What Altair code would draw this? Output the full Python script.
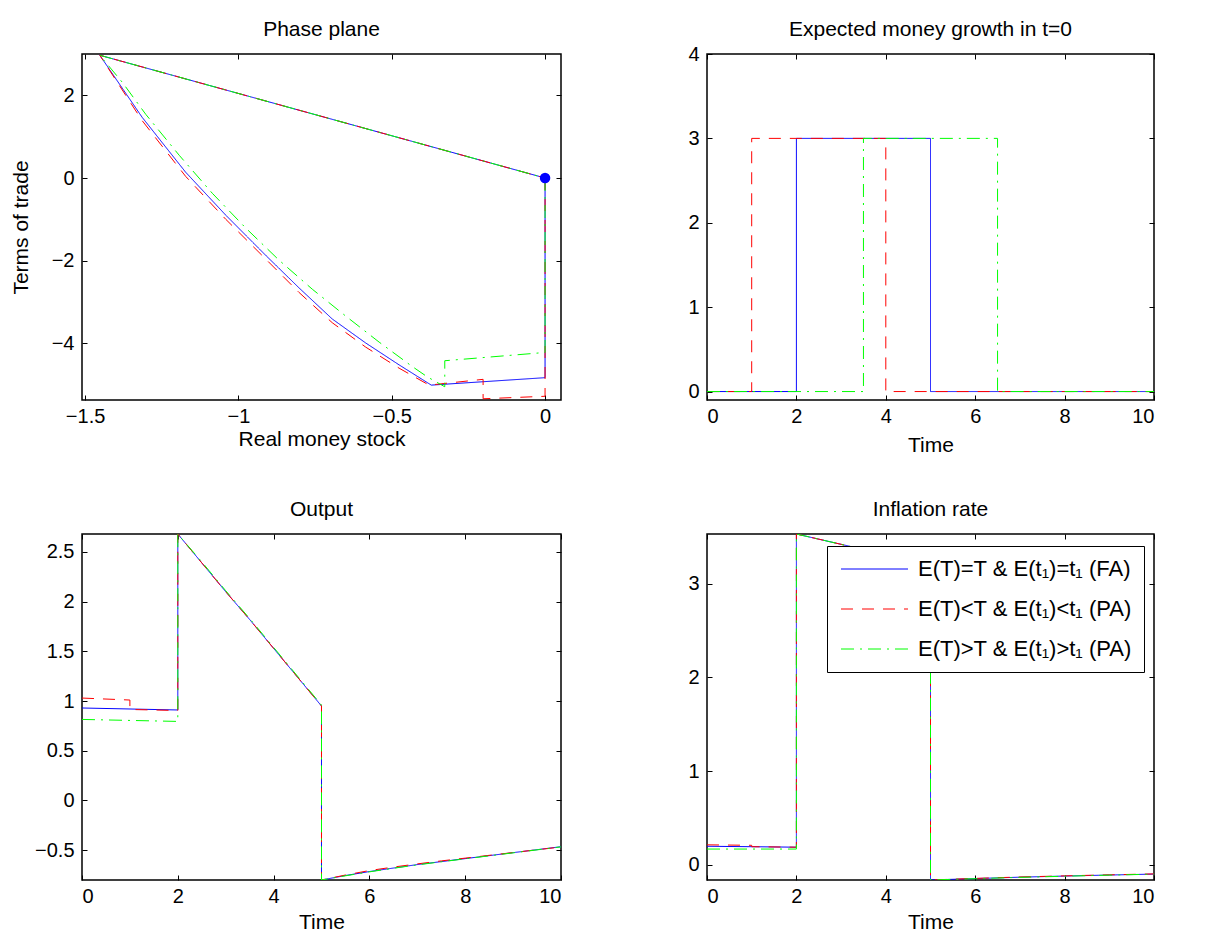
import altair as alt
import pandas as pd

FONT = "Liberation Sans"

S_FA = "E(T)=T & E(t₁)=t₁ (FA)"
S_PL = "E(T)<T & E(t₁)<t₁ (PA)"
S_PG = "E(T)>T & E(t₁)>t₁ (PA)"
SERIES = [S_FA, S_PL, S_PG]
COLORS = ["#0000ff", "#ff0000", "#00ff00"]
DASHES = [[1, 0], [12, 9], [13, 6, 2, 6]]

# ---------------- Phase plane (real money stock, terms of trade) ----------------
pp_fa_x = [0, 0, -0.371, -0.476, -0.585, -0.694, -0.802, -0.911, -1.041, -1.172, -1.314, -1.452, 0]
pp_fa_y = [0, -4.83, -5.01, -4.52, -3.99, -3.41, -2.66, -1.87, -0.90, 0.14, 1.47, 2.97, 0]
pp_pl_x = [0, 0, -0.202, -0.202, -0.378, -0.476, -0.585, -0.694, -0.802, -0.911, -1.041, -1.172, -1.314, -1.452, 0]
pp_pl_y = [0, -5.28, -5.34, -4.87, -5.01, -4.60, -4.09, -3.50, -2.77, -1.96, -1.00, 0.04, 1.39, 2.97, 0]
pp_pg_x = [0, 0, -0.327, -0.327, -0.384, -0.433, -0.541, -0.650, -0.759, -0.867, -0.976, -1.085, -1.193, -1.302, -1.378, -1.452, 0]
pp_pg_y = [0, -4.22, -4.42, -5.05, -4.81, -4.56, -3.97, -3.34, -2.69, -1.99, -1.21, -0.37, 0.55, 1.54, 2.31, 2.97, 0]
pp_dot_x = [0]
pp_dot_y = [0]

# ---------------- Expected money growth in t=0 ----------------
mg_fa_t = [0, 2, 2, 5, 5, 10]
mg_fa_v = [0, 0, 3, 3, 0, 0]
mg_pl_t = [0, 1, 1, 4, 4, 10]
mg_pl_v = [0, 0, 3, 3, 0, 0]
mg_pg_t = [0, 3.5, 3.5, 6.5, 6.5, 10]
mg_pg_v = [0, 0, 3, 3, 0, 0]

# ---------------- Output ----------------
out_fa_t = [0, 2, 2, 2.5, 3, 3.5, 4, 4.5, 5, 5, 5.5, 6, 6.5, 7, 7.5, 8, 8.5, 9, 9.5, 10]
out_fa_v = [0.93, 0.91, 2.68, 2.39, 2.10, 1.82, 1.53, 1.24, 0.95, -0.80, -0.755, -0.715, -0.68,
            -0.645, -0.615, -0.585, -0.555, -0.525, -0.495, -0.465]
out_pl_t = [0, 1, 1, 2, 2, 2.5, 3, 3.5, 4, 4.5, 5, 5, 5.5, 6, 6.5, 7, 7.5, 8, 8.5, 9, 9.5, 10]
out_pl_v = [1.03, 1.01, 0.915, 0.905, 2.68, 2.39, 2.10, 1.82, 1.53, 1.24, 0.95, -0.80, -0.75,
            -0.705, -0.67, -0.638, -0.608, -0.58, -0.552, -0.524, -0.496, -0.468]
out_pg_t = [0, 2, 2, 2.5, 3, 3.5, 4, 4.5, 5, 5, 5.5, 6, 6.5, 7, 7.5, 8, 8.5, 9, 9.5, 10]
out_pg_v = [0.815, 0.795, 2.68, 2.40, 2.11, 1.83, 1.54, 1.25, 0.96, -0.80, -0.758, -0.718, -0.682,
            -0.648, -0.617, -0.587, -0.557, -0.527, -0.497, -0.467]

# ---------------- Inflation rate ----------------
inf_fa_t = [0, 2, 2, 3, 4, 5, 5, 6, 7, 8, 9, 10]
inf_fa_v = [0.20, 0.19, 3.53, 3.42, 3.31, 3.20, -0.16, -0.145, -0.13, -0.118, -0.107, -0.097]
inf_pl_t = [0, 1, 1, 2, 2, 3, 4, 5, 5, 6, 7, 8, 9, 10]
inf_pl_v = [0.215, 0.21, 0.195, 0.19, 3.53, 3.42, 3.31, 3.20, -0.16, -0.143, -0.128, -0.116, -0.105, -0.095]
inf_pg_t = [0, 2, 2, 3, 4, 5, 5, 6, 7, 8, 9, 10]
inf_pg_v = [0.17, 0.17, 3.53, 3.42, 3.31, 3.20, -0.16, -0.146, -0.132, -0.12, -0.108, -0.098]

# axis ticks
pp_xticks = [-1.5, -1, -0.5, 0]
pp_yticks = [-4, -2, 0, 2]
t_ticks = [0, 2, 4, 6, 8, 10]
mg_yticks = [0, 1, 2, 3, 4]
out_yticks = [-0.5, 0, 0.5, 1, 1.5, 2, 2.5]
inf_yticks = [0, 1, 2, 3]


def frame(*series):
    rows = []
    for name, xs, ys in series:
        for i, (xv, yv) in enumerate(zip(xs, ys)):
            rows.append({"s": name, "i": i, "x": xv, "y": yv})
    return pd.DataFrame(rows)


LEGEND = alt.Legend(
    title=None, orient="none", legendX=120, legendY=12,
    symbolType="M-3.35,0H3.35", symbolSize=400, symbolStrokeWidth=1, symbolOffset=24.5,
    labelFont=FONT, labelFontSize=22, labelColor="black", labelLimit=500,
    labelOffset=32.5, rowPadding=18, padding=12,
    strokeColor="black", fillColor="white", cornerRadius=0,
)


def panel(df, xdom, ydom, xticks, yticks, xfmt, yfmt, title, xtitle, ytitle,
          w, h, show_legend=False, extra=None, ytitle_pad=20, xtitle_pad=2, title_offset=14):
    xs = alt.Scale(domain=xdom, nice=False, zero=False)
    ys = alt.Scale(domain=ydom, nice=False, zero=False)
    leg = LEGEND if show_legend else None
    xaxis = alt.Axis(orient="bottom", values=xticks, format=xfmt, offset=-5, tickSize=5,
                     labelPadding=6, titlePadding=xtitle_pad, title=xtitle)
    if ytitle:
        yaxis = alt.Axis(orient="left", values=yticks, format=yfmt, offset=-5, tickSize=5,
                         labelPadding=8, titlePadding=ytitle_pad, title=ytitle)
    else:
        yaxis = alt.Axis(orient="left", values=yticks, format=yfmt, offset=-5, tickSize=5,
                         labelPadding=8, title=None)
    main = alt.Chart(df).mark_line(strokeWidth=1, clip=True).encode(
        x=alt.X("x:Q", scale=xs, axis=xaxis),
        y=alt.Y("y:Q", scale=ys, axis=yaxis),
        color=alt.Color("s:N", scale=alt.Scale(domain=SERIES, range=COLORS), legend=leg),
        strokeDash=alt.StrokeDash("s:N", scale=alt.Scale(domain=SERIES, range=DASHES), legend=leg),
        order=alt.Order("i:Q"),
    )
    mirror = alt.Chart(df).mark_point(opacity=0, size=1, clip=True).encode(
        x=alt.X("x:Q", scale=xs, axis=alt.Axis(orient="top", values=xticks, labels=False,
                                              offset=-5, tickSize=5, title=None)),
        y=alt.Y("y:Q", scale=ys, axis=alt.Axis(orient="right", values=yticks, labels=False,
                                              offset=-5, tickSize=5, title=None)),
    )
    layers = [main, mirror]
    if extra is not None:
        layers.append(extra(xs, ys))
    return alt.layer(*layers).properties(
        width=w, height=h, title=alt.TitleParams(title, offset=title_offset)
    )


def dot_layer(xs, ys):
    d = pd.DataFrame({"x": pp_dot_x, "y": pp_dot_y})
    return alt.Chart(d).mark_point(filled=True, size=110, color="#0000ff", opacity=1).encode(
        x=alt.X("x:Q", scale=xs, axis=None),
        y=alt.Y("y:Q", scale=ys, axis=None),
    )


W_L, W_R, H = 479, 447, 346

p1 = panel(frame((S_FA, pp_fa_x, pp_fa_y), (S_PL, pp_pl_x, pp_pl_y), (S_PG, pp_pg_x, pp_pg_y)),
           [-1.51, 0.052], [-5.37, 3.0], pp_xticks, pp_yticks, ".1~f", "d",
           "Phase plane", "Real money stock", "Terms of trade", W_L, H, extra=dot_layer,
           xtitle_pad=2)
p2 = panel(frame((S_FA, mg_fa_t, mg_fa_v), (S_PL, mg_pl_t, mg_pl_v), (S_PG, mg_pg_t, mg_pg_v)),
           [0, 10], [-0.1, 4], t_ticks, mg_yticks, "d", "d",
           "Expected money growth in t=0", "Time", None, W_R, H, xtitle_pad=8, title_offset=4)
p3 = panel(frame((S_FA, out_fa_t, out_fa_v), (S_PL, out_pl_t, out_pl_v), (S_PG, out_pg_t, out_pg_v)),
           [0, 10], [-0.8, 2.68], t_ticks, out_yticks, "d", ".1~f",
           "Output", "Time", None, W_L, H, xtitle_pad=5)
p4 = panel(frame((S_FA, inf_fa_t, inf_fa_v), (S_PL, inf_pl_t, inf_pl_v), (S_PG, inf_pg_t, inf_pg_v)),
           [0, 10], [-0.16, 3.53], t_ticks, inf_yticks, "d", "d",
           "Inflation rate", "Time", None, W_R, H, show_legend=True, xtitle_pad=5)

chart = alt.ConcatChart(
    concat=[p1, p2, p3, p4], columns=2,
    spacing={"row": 134, "column": 146}, bounds="flush",
).resolve_scale(
    color="independent", strokeDash="independent"
).resolve_legend(color="independent", strokeDash="independent").properties(
    padding={"left": 1, "top": 9, "right": 5, "bottom": 5},
    background="white",
).configure(font=FONT).configure_axis(
    labelFont=FONT, titleFont=FONT, labelFontSize=20, titleFontSize=21,
    titleFontWeight="normal", labelColor="black", titleColor="black",
    tickColor="black", tickWidth=1, grid=False, domain=False,
).configure_view(stroke="black", strokeWidth=1.5).configure_title(
    font=FONT, fontSize=21, fontWeight="normal", color="black", anchor="middle"
)

chart.save("out.html", embed_options={"renderer": "svg", "actions": False})
